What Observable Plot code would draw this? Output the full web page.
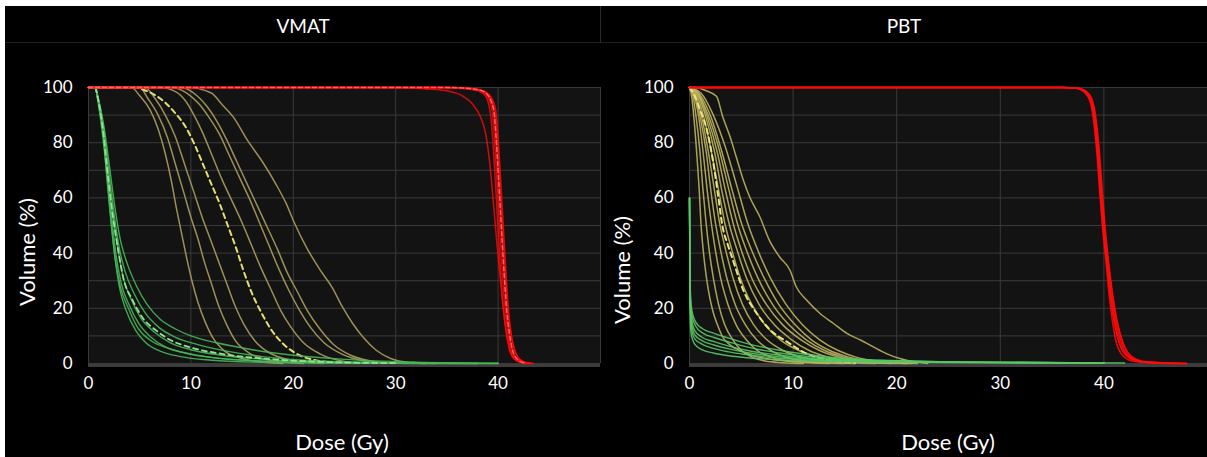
<!DOCTYPE html>
<html><head><meta charset="utf-8">
<script src="https://cdn.jsdelivr.net/npm/d3@7"></script>
<script src="https://cdn.jsdelivr.net/npm/@observablehq/plot@0.6"></script>
<style>
html,body{margin:0;padding:0;background:#fff;}
#wrap{position:relative;width:1207px;height:457px;overflow:hidden;background:#fff;font-family:Lato,"Open Sans",sans-serif;}
#bg{position:absolute;left:5px;top:6px;right:0;bottom:0;background:#000;}
.t{position:absolute;color:#fff;white-space:nowrap;line-height:1;transform:translate(-50%,-50%);}
.title{font-size:19px;top:25px;}
.ax{font-size:22px;}
.rot{transform:translate(-50%,-50%) rotate(-90deg);}
.panel{position:absolute;top:0;}
.panel svg{display:block;}
.sepH{position:absolute;left:5px;right:0;top:42px;height:1px;background:#1f1f1f;}
.sepV{position:absolute;left:600px;top:6px;width:1px;height:37px;background:#2a2a2a;}
</style></head>
<body>
<div id="wrap">
  <div id="bg"></div>
  <div class="sepH"></div>
  <div class="sepV"></div>
  <div class="t title" style="left:303px">VMAT</div>
  <div class="t title" style="left:904px">PBT</div>
  <div id="left" class="panel" style="left:0"></div>
  <div id="right" class="panel" style="left:600px"></div>
  <div class="t ax rot" style="left:27px;top:252px">Volume (%)</div>
  <div class="t ax rot" style="left:622px;top:270px">Volume (%)</div>
  <div class="t ax" style="left:342px;top:442px">Dose (Gy)</div>
  <div class="t ax" style="left:948px;top:442px">Dose (Gy)</div>
</div>
<script>
// ---- tick values ----
const doseTicks = [0, 10, 20, 30, 40];
const volTicks = [0, 20, 40, 60, 80, 100];
const doseGrid = [0, 10, 20, 30, 40, 50];
const volGrid = [0, 10, 20, 30, 40, 50, 60, 70, 80, 90, 100];

// ---- VMAT: [dose Gy, volume %] ----
const vmatRed = [
 [[0,100],[34,100],[36,99.7],[37.5,99.2],[38.5,98],[39.0,95],[39.3,89],[39.5,80],[39.7,68],[39.9,55],[40.1,42],[40.3,30],[40.5,20],[40.8,11],[41.1,5],[41.6,1.5],[42.3,0.3],[43,0]],
 [[0,100],[35,100],[37,99.6],[38.3,98.8],[39.0,96.5],[39.4,92],[39.6,84],[39.8,72],[40.0,59],[40.2,46],[40.4,34],[40.6,23],[40.9,13],[41.2,6],[41.7,1.8],[42.4,0.3],[43,0]],
 [[0,100],[35,100],[37.2,99.6],[38.5,98.7],[39.2,96],[39.6,91],[39.8,82],[40.0,70],[40.2,57],[40.4,44],[40.6,32],[40.8,21],[41.1,11],[41.4,5],[41.9,1.5],[42.6,0.2],[43.2,0]],
 [[0,100],[36,100],[37.6,99.6],[38.7,98.6],[39.4,96],[39.8,91],[40.0,82],[40.2,70],[40.4,57],[40.6,44],[40.8,31],[41.0,20],[41.3,10],[41.7,4],[42.2,1.2],[42.9,0.2],[43.5,0]],
 [[0,100],[30,100],[33,99.5],[35,98.8],[36.5,97],[37.5,94],[38.2,90],[38.8,83],[39.2,72],[39.5,60],[39.8,47],[40.1,35],[40.4,24],[40.7,14],[41.1,6],[41.6,1.8],[42.3,0.3],[43,0]],
 [[0,100],[35.5,100],[37.4,99.6],[38.6,98.7],[39.3,96],[39.7,91],[39.9,83],[40.1,71],[40.3,58],[40.5,45],[40.7,33],[40.9,22],[41.2,12],[41.6,5],[42.1,1.5],[42.8,0.2],[43.3,0]]
];
const vmatRedMean = [
 [[0,100],[35,100],[37.2,99.6],[38.5,98.7],[39.2,96],[39.6,91],[39.8,82],[40.0,70],[40.2,57],[40.4,44],[40.6,32],[40.8,21],[41.1,11],[41.4,5],[41.9,1.5],[42.6,0.2]]
];
const vmatYellow = [
 [[0,100],[4.2,100],[5.0,97],[6.0,92],[6.8,85],[7.5,76],[8.1,66],[8.6,56],[9.1,47],[9.6,38],[10.1,30],[10.7,22],[11.4,15],[12.2,9],[13.3,4.5],[15.0,1.8],[17.3,0.4],[19,0]],
 [[0,100],[5.0,100],[5.8,96],[6.8,90],[7.7,82],[8.5,72],[9.3,62],[10.0,53],[10.7,45],[11.3,37],[12.0,29],[12.7,21],[13.5,14],[14.4,8],[15.7,3.8],[17.5,1.3],[20,0.2],[21,0]],
 [[0,100],[5.5,100],[6.5,96],[7.5,90],[8.5,82],[9.4,72],[10.3,62],[11.1,53],[11.9,45],[12.7,37],[13.5,29],[14.3,21],[15.2,14],[16.3,8],[17.7,3.8],[19.8,1.2],[22,0.2],[23,0]],
 [[0,100],[7,100],[8.5,98.5],[9.5,95],[10.3,90],[11.1,84],[12.0,76],[13.0,67],[14.0,59],[15.0,51],[15.9,43],[16.8,35],[17.8,27],[18.8,19],[19.8,13],[21.0,7.5],[22.6,3.5],[24.6,1],[27,0.1]],
 [[0,100],[8,100],[9.6,98],[10.8,94],[11.8,89],[12.8,83],[13.8,75],[14.8,67],[15.8,59],[16.7,51],[17.6,43],[18.5,35],[19.5,27],[20.5,20],[21.7,13],[23.0,7.5],[24.8,3.3],[26.8,1],[29,0.1]],
 [[0,100],[9,100],[10.6,97],[11.6,93],[12.5,88],[13.5,81],[14.5,73],[15.5,65],[16.5,57],[17.5,49],[18.5,41],[19.4,33],[20.4,26],[21.4,19],[22.6,12.5],[23.9,7],[25.6,3],[27.6,0.9],[30,0.1]],
 [[0,100],[9.7,100],[12.0,98],[13.0,94],[14.2,89],[15.5,81],[17.0,73],[18.3,65],[19.3,58],[20.1,51],[21.3,42],[22.6,34],[23.8,27.5],[24.8,20.5],[25.8,14.5],[26.8,9.6],[28.1,4.8],[29.5,1.8],[31.4,0.3],[33,0]]
];
const vmatYellowMean = [
 [[0,100],[4.5,100],[5.5,99],[7.0,96],[8.4,91],[9.6,85],[10.4,79],[11.2,72],[12.0,65],[12.8,58],[13.6,50],[14.4,42],[15.1,34],[15.9,26],[16.8,19],[17.8,12.5],[18.9,7.5],[20.2,3.8],[22,1.3],[24.5,0.2]]
];
const vmatGreen = [
 [[0.7,100],[1.3,85],[1.8,68],[2.2,52],[2.6,38],[3.0,28],[3.7,19],[4.6,12],[5.6,7.5],[7,4.5],[9,2.5],[12,1.2],[16,0.5],[22,0.2],[30,0.1],[38,0]],
 [[0.7,100],[1.4,85],[1.9,68],[2.3,52],[2.7,39],[3.2,29],[4.0,21],[4.9,14.5],[6.1,9.5],[7.5,6],[9.5,3.8],[12,2.2],[16,1],[22,0.4],[30,0.1],[38,0]],
 [[0.7,100],[1.4,85],[1.9,68],[2.4,53],[2.9,41],[3.4,31],[4.2,23],[5.1,16.5],[6.4,11.5],[8,7.5],[10,5],[13,3],[17,1.5],[23,0.5],[32,0.1],[40,0]],
 [[0.7,100],[1.5,85],[2.0,69],[2.5,54],[3.0,42],[3.6,33],[4.5,25],[5.5,18.5],[6.9,13],[8.5,9.5],[10.5,7],[13.5,4.5],[17,2.5],[22,1],[30,0.3],[40,0]],
 [[0.7,100],[1.5,86],[2.1,70],[2.6,56],[3.1,45],[3.8,36],[4.7,28],[5.7,21.5],[7,16],[8.5,12.5],[10,10],[12.5,7.5],[16,5],[20,3],[25,1.5],[32,0.5],[40,0.1]],
 [[0.7,100],[1.4,85],[1.8,67],[2.2,51],[2.6,38],[3.1,28],[3.9,20],[4.8,13],[6,8.5],[7.8,5.5],[10,3.3],[13,1.8],[18,0.7],[25,0.2],[34,0]]
];
const vmatGreenMean = [
 [[0.7,100],[1.4,85],[1.9,68],[2.4,53],[2.9,41],[3.4,31],[4.3,23],[5.3,16.5],[6.6,12],[8,8.5],[10,5.8],[13,3.5],[17,1.8],[22,0.7],[30,0.1]]
];

// ---- PBT: [dose Gy, volume %] ----
const pbtRed = [
 [[0,100],[36,100],[37.4,99.7],[38.4,97.8],[38.9,93],[39.2,85],[39.45,75],[39.7,62],[39.95,50],[40.3,37],[40.65,25],[41.0,15.6],[41.5,7.2],[42.3,2.4],[43.6,0.6],[46,0.2],[48,0]],
 [[0,100],[36,100],[37.3,99.7],[38.3,97.8],[38.8,93],[39.1,85],[39.35,75],[39.6,62],[39.85,50],[40.2,37],[40.5,25],[40.8,16],[41.2,7.5],[41.9,2.6],[43,0.7],[45,0.2],[47,0]],
 [[0,100],[36.2,100],[37.5,99.7],[38.5,97.8],[39.0,93],[39.3,85],[39.55,75],[39.8,62],[40.05,50],[40.4,37],[40.8,25],[41.2,16],[41.8,7.5],[42.6,2.6],[43.8,0.7],[46,0.2],[48,0]],
 [[0,100],[35.8,100],[37.3,99.7],[38.3,97.6],[38.85,93],[39.15,85],[39.4,75],[39.65,62],[39.9,50],[40.25,37],[40.6,25],[41.0,15],[41.6,6.5],[42.5,2],[43.8,0.5],[46,0.1],[47.5,0]],
 [[0,100],[36,100],[37.4,99.7],[38.4,97.8],[38.95,93],[39.25,85],[39.5,75],[39.75,62],[40.0,50],[40.35,37],[40.7,25],[41.1,15.5],[41.7,7],[42.5,2.3],[43.6,0.6],[45.5,0.2],[47,0]],
 [[0,100],[36.1,100],[37.5,99.7],[38.5,97.8],[39.05,93],[39.35,85],[39.6,75],[39.85,62],[40.1,50],[40.45,37],[40.85,25],[41.3,15],[41.9,7],[42.8,2.2],[44,0.6],[46,0.2],[48,0]]
];
const pbtYellow = [
 [[0,100],[0.2,97],[0.45,88],[0.7,76],[0.95,62],[1.1,51],[1.3,42],[1.5,35],[1.8,27],[2.25,19],[2.7,14],[3.2,9.6],[4.0,6.5],[4.8,4.8],[6,3],[7.4,1.8],[9,1],[10.6,0.6],[13,0.2],[15,0]],
 [[0,100],[0.3,97.5],[0.65,89],[1.0,77],[1.3,63],[1.6,51],[1.9,41],[2.3,31],[2.8,21.5],[3.4,14],[4.2,8.5],[5.0,4.8],[6.0,2.4],[7.3,0.9],[9,0.3],[11,0]],
 [[0,100],[0.4,97.5],[0.9,89],[1.3,77],[1.7,63],[2.1,51],[2.5,41],[3.0,31],[3.7,21.5],[4.5,14],[5.5,8.5],[6.5,4.8],[7.8,2.4],[9.5,0.9],[11.5,0.3],[13.5,0]],
 [[0,100],[0.5,97.5],[1.05,89],[1.6,77],[2.05,63],[2.5,51],[3.0,41],[3.6,31],[4.4,21.5],[5.4,14],[6.5,8.5],[7.8,4.8],[9.2,2.4],[11.2,0.9],[13.7,0.3],[16,0]],
 [[0,100],[0.6,97.5],[1.2,89],[1.8,77],[2.4,63],[2.9,51],[3.5,41],[4.2,31],[5.1,21.5],[6.2,14],[7.5,8.5],[9.0,4.8],[10.7,2.4],[13,0.9],[15.5,0.3],[18,0]],
 [[0,100],[0.7,97.5],[1.4,89],[2.1,77],[2.8,63],[3.4,51],[4.1,41],[4.9,31],[6.0,21.5],[7.3,14],[8.8,8.5],[10.5,4.8],[12.5,2.4],[15,0.9],[17.5,0.3],[19.5,0]],
 [[0,100],[0.8,97.5],[1.6,89],[2.4,77],[3.1,63],[3.8,51],[4.6,41],[5.5,31],[6.7,21.5],[8.2,14],[9.9,8.5],[11.5,4.8],[13.3,2.4],[15.5,0.9],[18,0.3],[20,0]],
 [[0,100],[0.85,97.5],[1.75,89],[2.65,77],[3.45,63],[4.2,51],[5.0,41],[6.0,31],[7.4,21.5],[9.0,14],[10.8,8.5],[12.5,4.8],[14.3,2.4],[16.5,0.9],[19,0.3],[21,0]],
 [[0,100],[0.9,97.5],[1.9,89],[2.9,77],[3.8,63],[4.6,51],[5.5,41],[6.6,31],[8.0,21.5],[9.6,14],[11.3,8.5],[13,4.8],[14.8,2.4],[16.8,0.9],[19,0.3],[21,0]],
 [[0,100],[1.0,97.5],[2.1,89],[3.1,77],[4.1,63],[5.0,51],[6.0,41],[7.2,31],[8.6,21.5],[10.2,14],[11.8,8.5],[13.5,4.8],[15.3,2.4],[17.3,0.9],[19.5,0.3],[21.5,0]],
 [[0,100],[1.1,98],[2.3,90],[3.5,78],[4.6,64],[5.6,51],[6.6,41],[7.8,31],[9.3,21.5],[10.9,14],[12.6,8.5],[14.3,4.8],[16,2.4],[18,0.9],[20,0.3],[22,0]],
 [[0,100],[0.6,100],[1.5,99],[2.6,96.8],[3.2,89.5],[3.9,82.3],[4.5,75],[5.2,66.4],[5.8,60.4],[6.8,53.1],[7.7,44.7],[8.7,38.6],[9.7,33.8],[10.3,27.8],[11.3,23],[12.6,18.1],[13.9,14.5],[15.2,10.9],[16.5,8.5],[17.7,6.1],[19.0,3.6],[20.3,1.8],[21.6,0.6],[23,0]]
];
const pbtYellowMean = [
 [[0,100],[0.5,97],[1.0,92],[1.6,85.7],[2.26,73.6],[2.74,61.5],[3.2,49.4],[3.7,43],[4.2,37.4],[5.2,26.5],[6.5,18.1],[7.8,12.1],[9.4,7.9],[11.3,3.6],[13.5,1.2],[16,0.3]]
];
const pbtGreen = [
 [[0,60],[0.05,30],[0.2,20],[0.6,15],[1.3,12.5],[2.3,11],[3.8,9.2],[5.5,7.3],[8.7,4.8],[12,3],[15,1.8],[18.5,1.2],[23,0.7],[30,0.4],[42,0.2]],
 [[0,60],[0.05,28],[0.2,18],[0.6,13.5],[1.3,11],[2.3,9.5],[3.8,7.8],[5.5,6],[8.7,3.8],[12,2.3],[15,1.5],[19,1],[25,0.6],[40,0.2]],
 [[0,60],[0.05,26],[0.2,16],[0.5,12],[1.2,9.5],[2.3,8],[3.8,6.3],[5.5,4.8],[8.7,3],[12,1.8],[16,1.1],[22,0.6],[40,0.2]],
 [[0,60],[0.05,24],[0.2,14],[0.5,10.5],[1.2,8.3],[2.3,6.8],[3.8,5.3],[5.5,4],[8.7,2.4],[12,1.5],[16,0.9],[22,0.5],[40,0.2]],
 [[0,60],[0.05,22],[0.2,12.5],[0.5,9],[1.2,7],[2.3,5.5],[3.8,4.2],[5.5,3.2],[8.7,1.9],[12,1.2],[16,0.8],[22,0.4],[40,0.1]],
 [[0,60],[0.05,20],[0.15,11],[0.5,7],[1.2,5],[2.3,3.8],[3.8,2.8],[5.5,2.1],[8.7,1.3],[12,0.8],[18,0.5],[25,0.3],[40,0.1]]
];

function toRows(curves, key) {
  return curves.flatMap((c, i) => c.map(([dose, vol]) => ({id: key + i, dose, vol})));
}

function panel(sets, marginLeft, width) {
  return Plot.plot({
    width, height: 457, marginLeft, marginRight: 0, marginTop: 87, marginBottom: 94,
    style: {background: "transparent", color: "#fff", fontFamily: "Lato, sans-serif", fontSize: "17px", overflow: "visible"},
    x: {domain: [0, 50], ticks: doseTicks, tickSize: 0, tickPadding: 13, label: null},
    y: {domain: [0, 100], ticks: volTicks, tickSize: 0, tickPadding: 16, label: null},
    marks: [
      Plot.frame({fill: "#131313", stroke: "none"}),
      Plot.ruleX(doseGrid, {stroke: "#3a3a3a", strokeWidth: 1}),
      Plot.ruleY(volGrid, {stroke: "#3a3a3a", strokeWidth: 1}),
      Plot.ruleY([0], {stroke: "#3c3c3c", strokeWidth: 3, dy: 2}),
      ...sets.map(s => Plot.line(toRows(s.curves, s.key), {
        x: "dose", y: "vol", z: "id", stroke: s.color, strokeWidth: s.width,
        strokeOpacity: s.opacity ?? 1, strokeDasharray: s.dash, curve: "monotone-x"
      }))
    ]
  });
}

const vmatSets = [
  {key: "y", curves: vmatYellow, color: "#a3975a", width: 1.5, opacity: 0.95},
  {key: "ym", curves: vmatYellowMean, color: "#e6df6e", width: 2, dash: "5,4"},
  {key: "g", curves: vmatGreen, color: "#48b658", width: 1.4, opacity: 0.9},
  {key: "gm", curves: vmatGreenMean, color: "#8ee393", width: 1.8, dash: "5,4"},
  {key: "r", curves: vmatRed, color: "#ff0a0a", width: 1.5, opacity: 0.8},
  {key: "rm", curves: vmatRedMean, color: "#ff6060", width: 1.5, dash: "4,3"}
];
const pbtSets = [
  {key: "y", curves: pbtYellow, color: "#bdb25e", width: 1.5, opacity: 0.9},
  {key: "ym", curves: pbtYellowMean, color: "#ece577", width: 2, dash: "5,4"},
  {key: "g", curves: pbtGreen, color: "#58c866", width: 1.4, opacity: 0.9},
  {key: "r", curves: pbtRed, color: "#ff0a0a", width: 1.6, opacity: 0.85}
];

document.getElementById("left").appendChild(panel(vmatSets, 88, 600));
document.getElementById("right").appendChild(panel(pbtSets, 89, 607));
</script>
</body></html>
